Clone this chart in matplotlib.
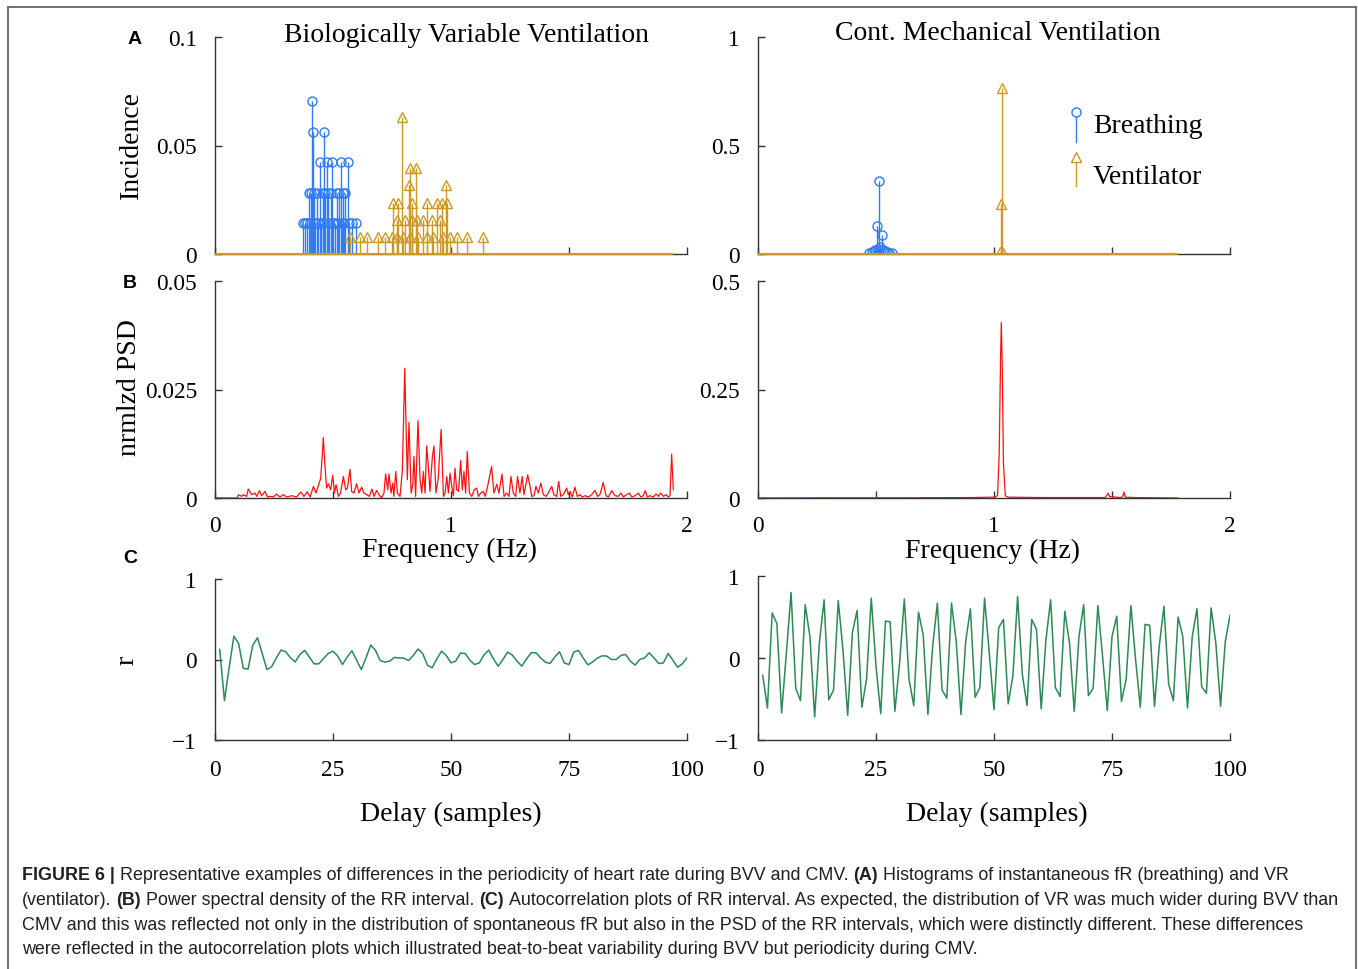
import numpy as np
import matplotlib
matplotlib.use('Agg')
import matplotlib.pyplot as plt
from matplotlib.lines import Line2D

plt.rcParams['font.family'] = 'Liberation Serif'

W, H = 1358, 970

BLUE = '#2f7cf6'
GOLD = '#cc9a22'
RED = '#ff1010'
GREEN = '#2b8a55'
AXC = '#333333'

# ---- A: histograms (stem plots) ----
# BVV breathing
bvv_br_f = [0.410, 0.414, 0.463, 0.445, 0.473, 0.494, 0.533, 0.562,
            0.398, 0.405, 0.419, 0.431, 0.456, 0.467, 0.480, 0.490, 0.516, 0.527, 0.541, 0.551,
            0.372, 0.381, 0.389, 0.401, 0.425, 0.437, 0.451, 0.459, 0.484, 0.501, 0.508,
            0.520, 0.537, 0.545, 0.569, 0.580, 0.597]
bvv_br_v = [0.0704, 0.0563, 0.0563, 0.0423, 0.0423, 0.0423, 0.0423, 0.0423,
            0.0282, 0.0282, 0.0282, 0.0282, 0.0282, 0.0282, 0.0282, 0.0282, 0.0282, 0.0282, 0.0282, 0.0282,
            0.0141, 0.0141, 0.0141, 0.0141, 0.0141, 0.0141, 0.0141, 0.0141, 0.0141, 0.0141, 0.0141,
            0.0141, 0.0141, 0.0141, 0.0141, 0.0141, 0.0141]
# BVV ventilator
bvv_vt_f = [0.794, 0.826, 0.852, 0.822, 0.979,
            0.753, 0.777, 0.833, 0.897, 0.939, 0.961, 0.984,
            0.773, 0.805, 0.836, 0.855, 0.883, 0.918, 0.953,
            0.572, 0.614, 0.645, 0.692, 0.720, 0.749, 0.770, 0.798, 0.826, 0.861,
            0.897, 0.925, 0.967, 0.996, 1.024, 1.069, 1.134]
bvv_vt_v = [0.0632, 0.0395, 0.0395, 0.0316, 0.0316,
            0.0237, 0.0237, 0.0237, 0.0237, 0.0237, 0.0237, 0.0237,
            0.0158, 0.0158, 0.0158, 0.0158, 0.0158, 0.0158, 0.0158,
            0.0079, 0.0079, 0.0079, 0.0079, 0.0079, 0.0079, 0.0079, 0.0079, 0.0079, 0.0079,
            0.0079, 0.0079, 0.0079, 0.0079, 0.0079, 0.0079, 0.0079]
# CMV breathing
cmv_br_f = [0.514, 0.503, 0.524, 0.470, 0.483, 0.490, 0.497, 0.508, 0.518, 0.530, 0.538, 0.548, 0.556, 0.566]
cmv_br_v = [0.335, 0.130, 0.089, 0.004, 0.008, 0.015, 0.020, 0.025, 0.030, 0.020, 0.012, 0.010, 0.006, 0.004]
# CMV ventilator
cmv_vt_f = [1.026, 1.030, 1.033, 1.038]
cmv_vt_v = [0.010, 0.230, 0.764, 0.005]

# ---- B: normalised PSD ----
bvv_psd_f = [0.000, 0.095, 0.099, 0.113, 0.120, 0.134, 0.141, 0.155, 0.169, 0.177,
             0.188, 0.198, 0.212, 0.222, 0.233, 0.247, 0.261, 0.275, 0.290, 0.304,
             0.325, 0.346, 0.363, 0.377, 0.391, 0.403, 0.417, 0.428, 0.438, 0.448,
             0.459, 0.466, 0.473, 0.480, 0.490, 0.499, 0.506, 0.513, 0.523, 0.532,
             0.544, 0.554, 0.561, 0.572, 0.579, 0.589, 0.600, 0.610, 0.621, 0.631,
             0.643, 0.654, 0.665, 0.674, 0.685, 0.695, 0.706, 0.716, 0.723, 0.732,
             0.737, 0.746, 0.753, 0.758, 0.766, 0.773, 0.784, 0.794, 0.804, 0.815,
             0.822, 0.831, 0.838, 0.843, 0.850, 0.860, 0.869, 0.876, 0.883, 0.890,
             0.897, 0.904, 0.911, 0.921, 0.928, 0.936, 0.946, 0.958, 0.968, 0.975,
             0.982, 0.989, 0.996, 1.003, 1.010, 1.017, 1.024, 1.032, 1.041, 1.048,
             1.055, 1.062, 1.069, 1.078, 1.088, 1.099, 1.109, 1.116, 1.126, 1.137,
             1.145, 1.155, 1.172, 1.182, 1.194, 1.203, 1.216, 1.225, 1.236, 1.246,
             1.254, 1.264, 1.274, 1.282, 1.292, 1.302, 1.309, 1.325, 1.335, 1.342,
             1.352, 1.360, 1.370, 1.381, 1.391, 1.403, 1.412, 1.427, 1.436, 1.448,
             1.456, 1.465, 1.476, 1.490, 1.497, 1.504, 1.514, 1.525, 1.535, 1.547,
             1.556, 1.568, 1.582, 1.596, 1.610, 1.621, 1.631, 1.645, 1.657, 1.667,
             1.681, 1.695, 1.709, 1.720, 1.730, 1.744, 1.756, 1.766, 1.780, 1.794,
             1.804, 1.815, 1.823, 1.832, 1.843, 1.857, 1.869, 1.879, 1.888, 1.900,
             1.911, 1.921, 1.928, 1.935, 1.942]
bvv_psd = [0.0, 0.0, 0.00076, 0.00038, 0.00076, 0.00038, 0.00206, 0.00076, 0.00114, 0.00038,
           0.00168, 0.00053, 0.00152, 0.00023, 0.00038, 0.00023, 0.00091, 0.00023, 0.00076, 0.00023,
           0.00053, 0.00023, 0.00137, 0.00038, 0.00145, 0.00023, 0.00267, 0.00114, 0.00282, 0.00457,
           0.0139, 0.00724, 0.00229, 0.00328, 0.00191, 0.00526, 0.00114, 0.00305, 0.00038, 0.00114,
           0.00495, 0.00191, 0.00229, 0.00663, 0.00152, 0.00114, 0.00328, 0.00114, 0.00251, 0.00114,
           0.00076, 0.00038, 0.00206, 0.00038, 0.00175, 0.00076, 0.0, 0.00114, 0.00549, 0.00191,
           0.00556, 0.00114, 0.00343, 0.00038, 0.00610, 0.00114, 0.00038, 0.00648, 0.0299, 0.00419,
           0.0174, 0.00114, 0.00305, 0.00953, 0.00038, 0.0178, 0.00419, 0.00114, 0.00610, 0.00114,
           0.0120, 0.00724, 0.00152, 0.00953, 0.0120, 0.00114, 0.00457, 0.0158, 0.00038, 0.00114,
           0.00495, 0.00114, 0.00572, 0.00267, 0.00053, 0.00686, 0.00191, 0.00152, 0.00861, 0.00191,
           0.00610, 0.00114, 0.0107, 0.00114, 0.00038, 0.00191, 0.00229, 0.00038, 0.00114, 0.00152,
           0.00038, 0.00267, 0.00724, 0.00114, 0.00320, 0.00114, 0.00549, 0.00038, 0.00114, 0.00038,
           0.00495, 0.00114, 0.00038, 0.00495, 0.00114, 0.00495, 0.00076, 0.00533, 0.00267, 0.00038,
           0.00053, 0.00267, 0.00114, 0.00343, 0.00076, 0.00038, 0.00114, 0.00267, 0.00076, 0.00038,
           0.00381, 0.00038, 0.00076, 0.00229, 0.00076, 0.00152, 0.00023, 0.00251, 0.00038, 0.00076,
           0.00023, 0.00053, 0.00023, 0.00076, 0.00175, 0.00038, 0.00076, 0.00358, 0.00053, 0.00023,
           0.00168, 0.00053, 0.00038, 0.00114, 0.00023, 0.00076, 0.00114, 0.00023, 0.00053, 0.00114,
           0.00023, 0.00053, 0.00168, 0.00023, 0.00053, 0.00023, 0.00091, 0.00038, 0.00114, 0.00038,
           0.00076, 0.00023, 0.00053, 0.0101, 0.00191]
cmv_psd_f = [0.0, 0.3, 0.6, 0.9, 1.005, 1.015, 1.022, 1.028, 1.031, 1.035, 1.040, 1.048, 1.06,
             1.2, 1.47, 1.478, 1.484, 1.49, 1.54, 1.547, 1.551, 1.556, 1.6, 1.78]
cmv_psd = [0.0, 0.0005, 0.0005, 0.001, 0.002, 0.006, 0.10, 0.33, 0.404, 0.30, 0.08, 0.005, 0.002,
           0.001, 0.001, 0.006, 0.011, 0.003, 0.001, 0.006, 0.014, 0.002, 0.001, 0.0]

# ---- C: autocorrelation, lags 1..100 ----
lags = np.arange(1, 101)
bvv_r = [0.125, -0.51, -0.10, 0.29, 0.20, -0.11, -0.12, 0.175, 0.27, 0.075,
         -0.125, -0.09, 0.02, 0.117, 0.096, 0.02, -0.03, 0.063, 0.113, 0.03,
         -0.054, -0.054, 0.0125, 0.075, 0.104, 0.042, -0.063, 0.03, 0.108, -0.008,
         -0.125, 0.02, 0.18, 0.113, -0.0125, -0.033, -0.02, 0.025, 0.02, 0.017,
         -0.0125, 0.05, 0.13, 0.075, -0.07, -0.104, 0.008, 0.104, 0.05, -0.042,
         -0.02, 0.079, 0.075, -0.008, -0.063, -0.042, 0.058, 0.117, 0.008, -0.083,
         0.0, 0.092, 0.054, -0.02, -0.083, 0.008, 0.083, 0.083, 0.02, -0.033,
         -0.05, 0.033, 0.096, -0.042, -0.063, 0.092, 0.113, 0.02, -0.067, -0.03,
         0.017, 0.046, 0.042, 0.0, 0.0, 0.05, 0.063, -0.02, -0.07, 0.0,
         0.02, 0.083, 0.02, -0.05, -0.042, 0.075, -0.008, -0.096, -0.054, 0.02]
cmv_r = [-0.21, -0.61, 0.55, 0.42, -0.67, 0.05, 0.80, -0.37, -0.52, 0.65,
         0.26, -0.72, 0.18, 0.71, -0.51, -0.39, 0.70, 0.10, -0.70, 0.31,
         0.58, -0.60, -0.26, 0.73, -0.10, -0.68, 0.45, 0.44, -0.65, -0.06,
         0.72, -0.26, -0.58, 0.56, 0.28, -0.69, 0.14, 0.67, -0.39, -0.49,
         0.67, 0.20, -0.69, 0.20, 0.60, -0.48, -0.36, 0.73, 0.06, -0.63,
         0.37, 0.47, -0.56, -0.22, 0.75, -0.20, -0.58, 0.47, 0.35, -0.62,
         0.22, 0.71, -0.36, -0.47, 0.57, 0.18, -0.65, 0.26, 0.65, -0.46,
         -0.37, 0.64, 0.02, -0.64, 0.26, 0.51, -0.53, -0.26, 0.64, -0.02,
         -0.60, 0.41, 0.40, -0.59, 0.14, 0.63, -0.32, -0.52, 0.50, 0.26,
         -0.61, 0.26, 0.60, -0.35, -0.43, 0.61, 0.18, -0.59, 0.20, 0.52]

freq_ticks = [0, 0.5, 1, 1.5, 2]
freq_labels = ['0', '', '1', '', '2']
lag_ticks = [0, 25, 50, 75, 100]

LBL = 20     # axis labels / titles / legend
TCK = 16.8   # tick labels


def fx(x):
    return x / W


def fy(y):
    return 1 - y / H


fig = plt.figure(figsize=(W / 100, H / 100), dpi=100)


def add_ax(x0, x1, ytop, ybot):
    return fig.add_axes([fx(x0), fy(ybot), (x1 - x0) / W, (ybot - ytop) / H])


def style(ax):
    ax.spines['top'].set_visible(False)
    ax.spines['right'].set_visible(False)
    for s in ['left', 'bottom']:
        ax.spines[s].set_color(AXC)
        ax.spines[s].set_linewidth(1.0)
    ax.tick_params(direction='in', length=5, width=1, color=AXC, labelsize=TCK)
    ax.tick_params(axis='x', pad=12)
    ax.tick_params(axis='y', pad=13)
    ax.patch.set_alpha(0)


def stems(ax, f, v, color, marker, ms):
    ml, sl, bl = ax.stem(f, v, linefmt='-', markerfmt=marker, basefmt=' ')
    plt.setp(sl, color=color, linewidth=1.0)
    plt.setp(ml, color=color, markerfacecolor='none', markeredgewidth=1.0, markersize=ms)
    bl.set_visible(False)


aA1 = add_ax(215, 687, 38, 255)
aA2 = add_ax(758, 1230, 38, 255)
aB1 = add_ax(215, 687, 282, 499)
aB2 = add_ax(758, 1230, 282, 499)
aC1 = add_ax(215, 687, 580, 741)
aC2 = add_ax(758, 1230, 577, 741)

# row A
stems(aA1, bvv_br_f, bvv_br_v, BLUE, 'o', 6.5)
stems(aA1, bvv_vt_f, bvv_vt_v, GOLD, '^', 7)
aA1.hlines(0, 0, bvv_psd_f[-1], color=GOLD, lw=1.5, zorder=3, clip_on=False)
aA1.set_ylim(0, 0.1)
aA1.set_yticks([0, 0.05, 0.1])
aA1.set_yticklabels(['0', '0.05', '0.1'])

stems(aA2, cmv_br_f, cmv_br_v, BLUE, 'o', 6.5)
stems(aA2, cmv_vt_f, cmv_vt_v, GOLD, '^', 7)
aA2.hlines(0, 0, cmv_psd_f[-1], color=GOLD, lw=1.5, zorder=3, clip_on=False)
aA2.set_ylim(0, 1)
aA2.set_yticks([0, 0.5, 1])
aA2.set_yticklabels(['0', '0.5', '1'])

for ax in (aA1, aA2):
    style(ax)
    ax.set_xlim(0, 2)
    ax.set_xticks(freq_ticks)
    ax.set_xticklabels([''] * 5)

# legend (drawn by hand, stem style)
lx = 0.674
aA2.plot([lx, lx], [0.654, 0.516], transform=aA2.transAxes, color=BLUE, lw=1)
aA2.plot([lx], [0.654], marker='o', mfc='white', mec=BLUE, ms=6.5, transform=aA2.transAxes)
aA2.text(0.710, 0.59, 'Breathing', transform=aA2.transAxes, fontsize=LBL, va='center')
aA2.plot([lx, lx], [0.449, 0.313], transform=aA2.transAxes, color=GOLD, lw=1)
aA2.plot([lx], [0.449], marker='^', mfc='white', mec=GOLD, ms=7, transform=aA2.transAxes)
aA2.text(0.710, 0.359, 'Ventilator', transform=aA2.transAxes, fontsize=LBL, va='center')

# row B
aB1.plot(bvv_psd_f, bvv_psd, color=RED, lw=0.9)
aB1.set_ylim(0, 0.05)
aB1.set_yticks([0, 0.025, 0.05])
aB1.set_yticklabels(['0', '0.025', '0.05'])
aB2.plot(cmv_psd_f, cmv_psd, color=RED, lw=0.9)
aB2.set_ylim(0, 0.5)
aB2.set_yticks([0, 0.25, 0.5])
aB2.set_yticklabels(['0', '0.25', '0.5'])
for ax in (aB1, aB2):
    style(ax)
    ax.set_xlim(0, 2)
    ax.set_xticks(freq_ticks)
    ax.set_xticklabels(freq_labels)

# row C
aC1.plot(lags, bvv_r, color=GREEN, lw=1.1)
aC2.plot(lags, cmv_r, color=GREEN, lw=1.1)
for ax in (aC1, aC2):
    style(ax)
    ax.tick_params(axis='x', pad=14)
    ax.set_xlim(0, 100)
    ax.set_ylim(-1, 1)
    ax.set_xticks(lag_ticks)
    ax.set_yticks([-1, 0, 1])
    ax.set_yticklabels(['\u22121', '0', '1'])

# titles, axis labels, panel letters
fig.text(fx(466), fy(35), 'Biologically Variable Ventilation', fontsize=LBL, ha='center', va='center')
fig.text(fx(998), fy(34), 'Cont. Mechanical Ventilation', fontsize=LBL, ha='center', va='center')
fig.text(fx(131), fy(145), 'Incidence', fontsize=LBL, rotation=90, ha='center', va='center')
fig.text(fx(130), fy(388), 'nrmlzd PSD', fontsize=LBL, rotation=90, ha='center', va='center')
fig.text(fx(127), fy(660), 'r', fontsize=LBL, rotation=90, ha='center', va='center')
fig.text(fx(450), fy(550), 'Frequency (Hz)', fontsize=LBL, ha='center', va='center')
fig.text(fx(993), fy(551), 'Frequency (Hz)', fontsize=LBL, ha='center', va='center')
fig.text(fx(451), fy(814), 'Delay (samples)', fontsize=LBL, ha='center', va='center')
fig.text(fx(997), fy(814), 'Delay (samples)', fontsize=LBL, ha='center', va='center')
for lab, x, y in [('A', 135, 39), ('B', 130, 283), ('C', 130, 559)]:
    fig.text(fx(x), fy(y), lab, fontsize=14, fontweight='bold', family='Liberation Sans',
             ha='center', va='center')

# caption
cap_lines = [
    [('FIGURE 6 |', True),
     (' Representative examples of differences in the periodicity of heart rate during BVV and CMV. ', False),
     ('(A)', True), (' Histograms of instantaneous fR (breathing) and VR', False)],
    [('(ventilator). ', False), ('(B)', True), (' Power spectral density of the RR interval. ', False),
     ('(C)', True),
     (' Autocorrelation plots of RR interval. As expected, the distribution of VR was much wider during BVV than', False)],
    [('CMV and this was reflected not only in the distribution of spontaneous fR but also in the PSD of the '
      'RR intervals, which were distinctly different. These differences', False)],
    [('were reflected in the autocorrelation plots which illustrated beat-to-beat variability during BVV but '
      'periodicity during CMV.', False)],
]
cap_y = [876, 901, 926, 950]

renderer = fig.canvas.get_renderer()


def text_w(s, size, bold):
    t = fig.text(0, 0, s, fontsize=size, fontweight='bold' if bold else 'normal', family='Liberation Sans')
    w = t.get_window_extent(renderer=renderer).width
    t.remove()
    return w


def line_w(parts, size):
    sp = text_w('x x', size, False) - text_w('xx', size, False)
    w = 0
    for s, bold in parts:
        w += text_w(s.strip(), size, bold)
        w += sp * (s.startswith(' ') + s.endswith(' '))
    return w


# fit caption size so that the second (longest) line ends where the reference does
base = 12
cap_size = base * (1341 - 22) / line_w(cap_lines[1], base)
sp = text_w('x x', cap_size, False) - text_w('xx', cap_size, False)

for parts, y in zip(cap_lines, cap_y):
    x = 22
    for s, bold in parts:
        if s.startswith(' '):
            x += sp
        core = s.strip()
        t = fig.text(fx(x), fy(y), core, fontsize=cap_size, fontweight='bold' if bold else 'normal',
                     family='Liberation Sans', ha='left', va='center', color='#231f20')
        x += t.get_window_extent(renderer=renderer).width
        if s.endswith(' '):
            x += sp

# frame around the figure (open at the bottom)
for xs, ys in [([8, 8], [8, 970]), ([8, 1356], [8, 8]), ([1356, 1356], [8, 970])]:
    fig.add_artist(Line2D([fx(v) for v in xs], [fy(v) for v in ys], transform=fig.transFigure,
                          color='#666666', lw=1.3))

fig.savefig('out.png', dpi=100)
